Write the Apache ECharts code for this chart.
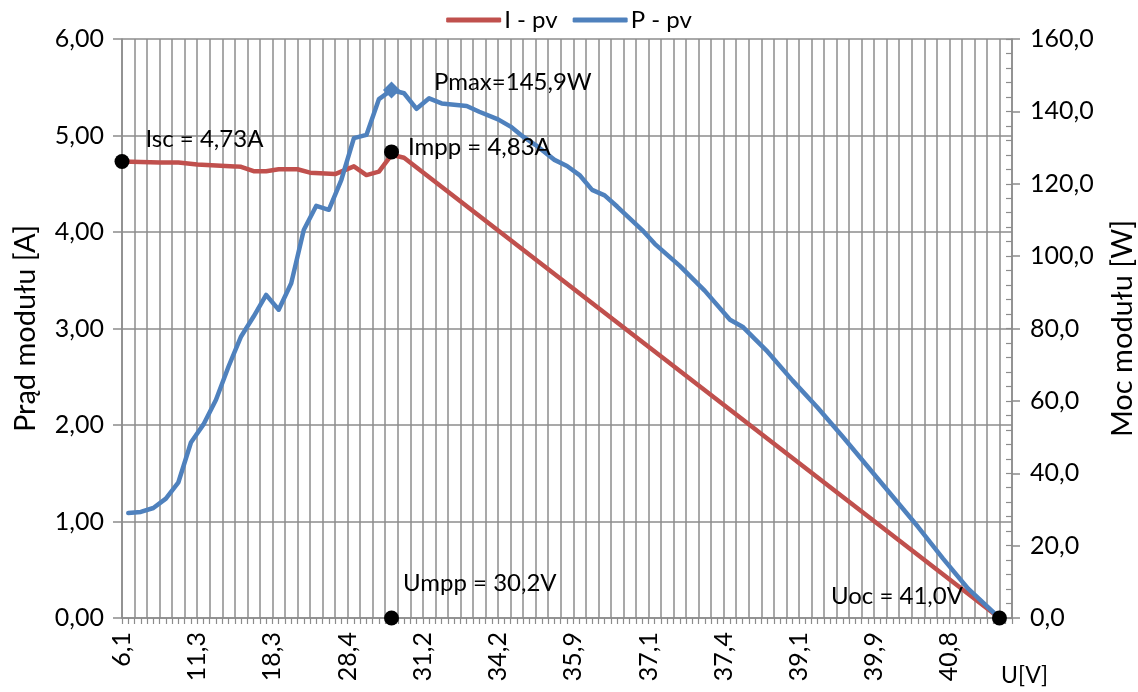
<!DOCTYPE html>
<html>
<head>
<meta charset="utf-8">
<script src="https://cdn.jsdelivr.net/npm/echarts@6/dist/echarts.min.js"></script>
<style>
  html, body { margin: 0; padding: 0; background: #ffffff; }
  #chart { width: 1138px; height: 692px; }
</style>
</head>
<body>
<div id="chart"></div>
<script>
// Voltage tick labels, one every 12 measurement steps
const uTickLabels = ['6,1', '11,3', '18,3', '28,4', '31,2', '34,2', '35,9', '37,1', '37,4', '39,1', '39,9', '40,8'];
const stepCount = 143;
const labelStep = 12;

// I-U characteristic: [step index, current in A]
const currentPV = [
  [0, 4.73], [6, 4.72], [9, 4.72], [12, 4.70], [18, 4.68], [19, 4.675], [21, 4.63], [23, 4.63],
  [25, 4.65], [28, 4.65], [30, 4.615], [34, 4.60], [37, 4.68], [39, 4.59], [41, 4.625],
  [43, 4.80], [45, 4.77], [140, 0]
];

// P-U characteristic: [step index, power in W]
const powerPV = [
  [1, 29.0], [3, 29.3], [5, 30.4], [7, 33.0], [9, 37.5], [11, 48.5], [13, 53.5], [15, 60.3],
  [17, 69.5], [19, 77.8], [21, 83.3], [23, 89.3], [25, 85.2], [27, 92.5], [29, 107.2],
  [31, 113.9], [33, 112.8], [35, 121.1], [37, 132.6], [39, 133.5], [41, 143.4], [43, 145.9],
  [45, 145.0], [47, 140.7], [49, 143.6], [51, 142.2], [55, 141.5], [57, 139.9], [60, 137.8],
  [62, 135.8], [64, 133.0], [66, 130.7], [69, 126.6], [71, 124.9], [73, 122.4], [75, 118.3],
  [77, 116.8], [79, 113.7], [83, 107.2], [85, 103.4], [89, 97.3], [93, 90.4], [97, 82.4],
  [99, 80.5], [103, 73.6], [107, 65.6], [111, 58.1], [115, 50.1], [119, 41.8], [123, 33.5],
  [127, 25.2], [131, 16.4], [135, 8.1], [140, 0]
];

// Characteristic points
const iscValue = 4.73;
const imppValue = 4.83;
const pmaxValue = 145.9;
const umppValue = 30.2;
const uocValue = 41.0;
const mppStep = 43;
const uocStep = 140;

const FONT = 'Lato';
const GRID = '#8c8c8c';
const TICK_FONT = 25;
const NOTE_FONT = 24;
const TITLE_FONT = 29;
const comma = (v, d) => v.toFixed(d).replace('.', ',');

const categories = Array.from({ length: stepCount }, (_, i) => String(i));

const chart = echarts.init(document.getElementById('chart'));

const dotLabel = (text, position, offset) => ({
  show: true, formatter: text, position: position, distance: 0, offset: offset,
  color: '#000', fontSize: NOTE_FONT, fontFamily: FONT
});

chart.setOption({
  animation: false,
  backgroundColor: '#ffffff',
  textStyle: { fontFamily: FONT },
  grid: { left: 122, right: 126, top: 39, bottom: 74, containLabel: false, outerBoundsMode: 'none' },
  legend: {
    data: ['I - pv', 'P - pv'],
    top: 3, left: 'center',
    icon: 'roundRect', itemWidth: 55, itemHeight: 5, itemGap: 15,
    textStyle: { fontSize: 24, color: '#000', fontFamily: FONT, padding: [0, 0, 0, -2] }
  },
  xAxis: {
    type: 'category',
    data: categories,
    boundaryGap: false,
    axisLine: { show: true, lineStyle: { color: GRID, width: 1.5 } },
    axisTick: { show: true, interval: 0, length: 6, lineStyle: { color: GRID, width: 1.2 } },
    axisLabel: {
      interval: labelStep - 1, rotate: 90, margin: 14,
      fontSize: TICK_FONT, color: '#000', fontFamily: FONT,
      formatter: (v, i) => (i % labelStep === 0 && uTickLabels[i / labelStep]) || ''
    },
    splitLine: { show: true, interval: 1, lineStyle: { color: GRID, width: 1.5 } }
  },
  yAxis: [
    {
      type: 'value', position: 'left', min: 0, max: 6, interval: 1,
      name: 'Prąd modułu [A]', nameLocation: 'middle', nameRotate: 90, nameGap: 82,
      nameTextStyle: { fontSize: TITLE_FONT, color: '#000', fontFamily: FONT },
      axisLine: { show: true, lineStyle: { color: GRID, width: 1.5 } },
      axisTick: { show: true, length: 9, lineStyle: { color: GRID, width: 1.5 } },
      axisLabel: { margin: 18, fontSize: TICK_FONT, color: '#000', fontFamily: FONT, formatter: v => comma(v, 2) },
      splitLine: { show: true, lineStyle: { color: GRID, width: 1.5 } }
    },
    {
      type: 'value', position: 'right', min: 0, max: 160, interval: 20,
      name: 'Moc modułu [W]', nameLocation: 'middle', nameRotate: 90, nameGap: 96,
      nameTextStyle: { fontSize: TITLE_FONT, color: '#000', fontFamily: FONT },
      axisLine: { show: true, lineStyle: { color: GRID, width: 1.5 } },
      axisTick: { show: true, length: 8, lineStyle: { color: GRID, width: 1.5 } },
      axisLabel: { margin: 18, fontSize: TICK_FONT, color: '#000', fontFamily: FONT, formatter: v => comma(v, 1) },
      splitLine: { show: false }
    },
    {
      // inner minor ticks of the power axis
      type: 'value', position: 'right', min: 0, max: 160, interval: 4,
      axisLine: { show: false },
      axisTick: { show: true, inside: true, length: 6, lineStyle: { color: GRID, width: 1.2 } },
      axisLabel: { show: false },
      splitLine: { show: false }
    }
  ],
  series: [
    {
      name: 'I - pv', type: 'line', yAxisIndex: 0, data: currentPV,
      showSymbol: false, symbol: 'none', clip: false, z: 3,
      itemStyle: { color: '#C0504D' },
      lineStyle: { color: '#C0504D', width: 4.5, join: 'round', cap: 'round' }
    },
    {
      name: 'P - pv', type: 'line', yAxisIndex: 1, data: powerPV,
      showSymbol: false, symbol: 'none', clip: false, z: 4,
      itemStyle: { color: '#4F81BD' },
      lineStyle: { color: '#4F81BD', width: 4.5, join: 'round', cap: 'round' }
    },
    {
      name: 'points-I', type: 'scatter', yAxisIndex: 0, clip: false, z: 6,
      symbol: 'circle', symbolSize: 15, itemStyle: { color: '#000', opacity: 1 },
      data: [
        { value: [0, iscValue], label: dotLabel('Isc = ' + comma(iscValue, 2) + 'A', 'right', [16, -22]) },
        { value: [mppStep, imppValue], label: dotLabel('Impp = ' + comma(imppValue, 2) + 'A', 'right', [9, -5]) },
        { value: [mppStep, 0], label: dotLabel('Umpp = ' + comma(umppValue, 1) + 'V', 'right', [4, -35]) },
        { value: [uocStep, 0], label: dotLabel('Uoc = ' + comma(uocValue, 1) + 'V', 'left', [-29, -22]) }
      ]
    },
    {
      name: 'points-P', type: 'scatter', yAxisIndex: 1, clip: false, z: 6,
      symbol: 'diamond', symbolSize: 17, itemStyle: { color: '#4F81BD', opacity: 1 },
      data: [
        { value: [mppStep, pmaxValue], label: dotLabel('Pmax=' + comma(pmaxValue, 1) + 'W', 'right', [34, -8]) }
      ]
    }
  ],
  graphic: [
    { type: 'text', left: 1001, top: 664, style: { text: 'U[V]', fontSize: 23, fontFamily: FONT, fill: '#000' } }
  ]
});
</script>
</body>
</html>
